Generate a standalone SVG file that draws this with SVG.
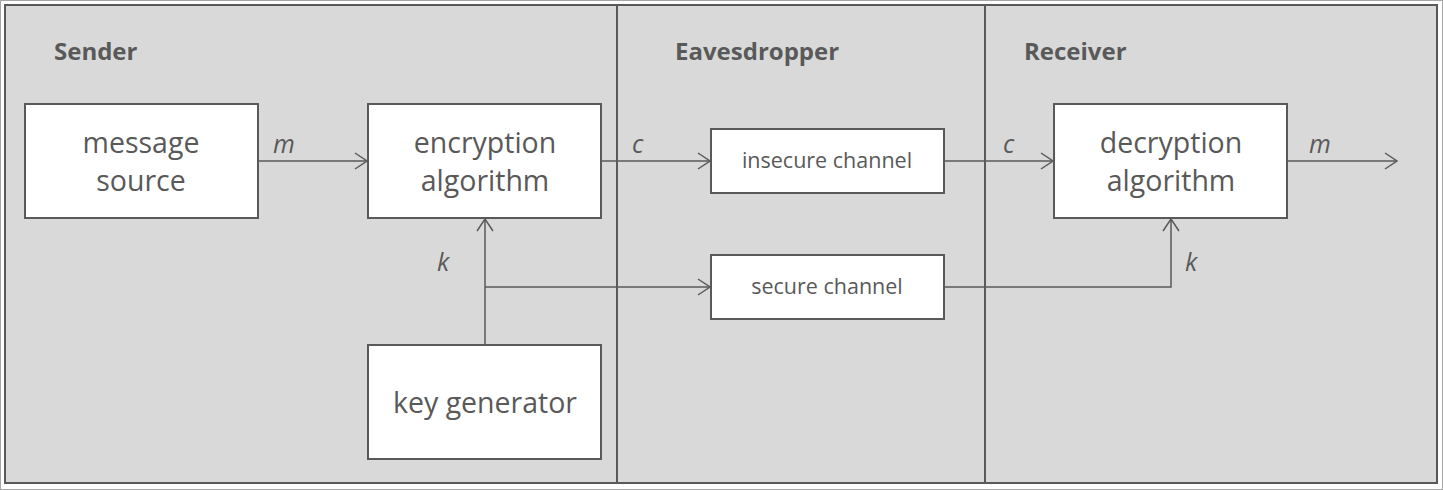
<svg xmlns="http://www.w3.org/2000/svg" width="1443" height="490" viewBox="0 0 1443 490">
<style>
.box{fill:#fff;stroke:#595959;stroke-width:2}
.big{font-family:"Open Sans","Liberation Sans",sans-serif;font-size:28.5px;fill:#595959;text-anchor:middle}
.small{font-family:"Open Sans","Liberation Sans",sans-serif;font-size:21.5px;fill:#595959;text-anchor:middle}
.head{font-family:"Open Sans","Liberation Sans",sans-serif;font-size:24px;font-weight:bold;fill:#595959}
.lbl{font-family:"Open Sans","Liberation Sans",sans-serif;font-size:25px;font-style:italic;fill:#595959}
.conn{fill:none;stroke:#595959;stroke-width:1.5}
</style>
<defs>
<marker id="arr" viewBox="0 0 14 18" refX="13" refY="9" markerWidth="14" markerHeight="18" markerUnits="userSpaceOnUse" orient="auto">
<path d="M1,1 L13,9 L1,17" fill="none" stroke="#595959" stroke-width="1.5"/>
</marker>
</defs>
<rect x="0.5" y="0.5" width="1442" height="489" fill="#fff" stroke="#a6a6a6" stroke-width="1"/>
<rect x="5" y="5" width="1432" height="478" fill="#d9d9d9" stroke="#595959" stroke-width="2"/>
<line x1="617" y1="5" x2="617" y2="483" stroke="#595959" stroke-width="2"/>
<line x1="985" y1="5" x2="985" y2="483" stroke="#595959" stroke-width="2"/>
<text class="head" x="54" y="60">Sender</text>
<text class="head" x="675" y="60">Eavesdropper</text>
<text class="head" x="1024" y="60">Receiver</text>
<g id="connectors">
<line class="conn" x1="258" y1="161" x2="367" y2="161" marker-end="url(#arr)"/>
<line class="conn" x1="601" y1="161" x2="710" y2="161" marker-end="url(#arr)"/>
<line class="conn" x1="944" y1="161" x2="1053" y2="161" marker-end="url(#arr)"/>
<line class="conn" x1="1287" y1="161" x2="1397" y2="161" marker-end="url(#arr)"/>
<line class="conn" x1="485" y1="344" x2="485" y2="219" marker-end="url(#arr)"/>
<line class="conn" x1="485" y1="287" x2="710" y2="287" marker-end="url(#arr)"/>
<polyline class="conn" points="944,287 1171,287 1171,219" marker-end="url(#arr)"/>
<text class="lbl" x="273" y="153">m</text>
<text class="lbl" x="632" y="153">c</text>
<text class="lbl" x="437" y="271">k</text>
<text class="lbl" x="1003" y="153">c</text>
<text class="lbl" x="1309" y="153">m</text>
<text class="lbl" x="1185" y="271">k</text>
</g>
<g id="message-source">
<rect class="box" x="25" y="104" width="233" height="114"/>
<text class="big" x="141" y="153">message</text>
<text class="big" x="141" y="191">source</text>
</g>
<g id="encryption-algorithm">
<rect class="box" x="368" y="104" width="233" height="114"/>
<text class="big" x="485" y="153">encryption</text>
<text class="big" x="485" y="191">algorithm</text>
</g>
<g id="key-generator">
<rect class="box" x="368" y="345" width="233" height="114"/>
<text class="big" x="485" y="413">key generator</text>
</g>
<g id="insecure-channel">
<rect class="box" x="711" y="129" width="233" height="64"/>
<text class="small" x="827" y="168">insecure channel</text>
</g>
<g id="secure-channel">
<rect class="box" x="711" y="255" width="233" height="64"/>
<text class="small" x="827" y="294">secure channel</text>
</g>
<g id="decryption-algorithm">
<rect class="box" x="1054" y="104" width="233" height="114"/>
<text class="big" x="1171" y="153">decryption</text>
<text class="big" x="1171" y="191">algorithm</text>
</g>
</svg>
